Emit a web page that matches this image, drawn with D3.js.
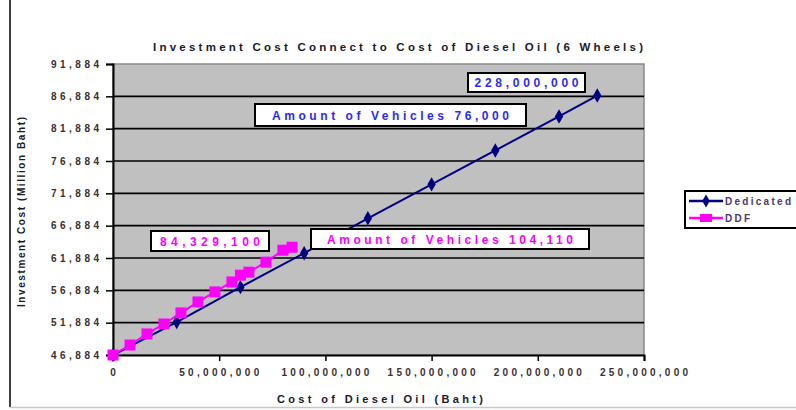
<!DOCTYPE html>
<html><head><meta charset="utf-8">
<script src="https://cdn.jsdelivr.net/npm/d3@7"></script>
<style>
html,body{margin:0;padding:0;background:#fff;}
svg{display:block;font-family:"Liberation Sans",Arial,sans-serif;}
</style></head>
<body>
<script>
// ---- data ----
const titleText = "Investment Cost Connect to Cost of Diesel Oil (6 Wheels)";
const xTitle = "Cost of Diesel Oil (Baht)";
const yTitle = "Investment Cost (Million Baht)";
const xTicks = [0, 50000000, 100000000, 150000000, 200000000, 250000000];
const yTicks = [46884, 51884, 56884, 61884, 66884, 71884, 76884, 81884, 86884, 91884];
const seriesNames = ["Dedicated", "DDF"];
const dedicatedX = [0, 30e6, 60e6, 90e6, 120e6, 150e6, 180e6, 210e6, 228e6];
const dedicatedY = [46884, 51980, 57380, 62630, 68030, 73270, 78520, 83770, 87010];
const ddfX = [0, 8e6, 16e6, 24e6, 32e6, 40e6, 48e6, 56e6, 60e6, 64e6, 72e6, 80e6, 84.3291e6];
const ddfY = [46884, 48430, 50140, 51680, 53390, 55090, 56640, 58180, 59230, 59690, 61240, 63090, 63550];
const annotations = [
  {text: "228,000,000", color: "#2a2aff"},
  {text: "Amount of Vehicles 76,000", color: "#2a2aff"},
  {text: "84,329,100", color: "#ff00ff"},
  {text: "Amount of Vehicles 104,110", color: "#ff00ff"}
];

// ---- layout ----
const W = 796, H = 410;
const P = {l: 113, r: 644, t: 64, b: 355};
const svg = d3.select("body").append("svg").attr("width", W).attr("height", H);

const x = d3.scaleLinear().domain([0, 250000000]).range([P.l, P.r]);
const y = d3.scaleLinear().domain([46884, 91884]).range([P.b, P.t]);
const fmt = d3.format(",");

// outer frame
svg.append("line").attr("x1", 10).attr("x2", 10).attr("y1", 0).attr("y2", 407).attr("stroke", "#000").attr("stroke-width", 1.5);
svg.append("line").attr("x1", 10).attr("x2", 796).attr("y1", 407.5).attr("y2", 407.5).attr("stroke", "#c8c8c8").attr("stroke-width", 1.5);

// plot bg
svg.append("rect").attr("x", P.l).attr("y", P.t).attr("width", P.r - P.l).attr("height", P.b - P.t)
  .attr("fill", "#c0c0c0").attr("stroke", "#8a8a8a").attr("stroke-width", 1.5);

// gridlines
svg.append("g").selectAll("line").data(yTicks.slice(1, -1)).join("line")
  .attr("x1", P.l).attr("x2", P.r).attr("y1", d => y(d)).attr("y2", d => y(d))
  .attr("stroke", "#000").attr("stroke-width", 1.6);

// axes
const yAxis = d3.axisLeft(y).tickValues(yTicks).tickSize(7).tickFormat("");
const xAxis = d3.axisBottom(x).tickValues(xTicks).tickSize(6).tickFormat("");
const gy = svg.append("g").attr("transform", `translate(${P.l},0)`).call(yAxis);
const gx = svg.append("g").attr("transform", `translate(0,${P.b})`).call(xAxis);
[gy, gx].forEach(g => {
  g.select(".domain").attr("stroke", "#000").attr("stroke-width", 2);
  g.selectAll(".tick line").attr("stroke", "#000").attr("stroke-width", 1.5);
});

// tick labels
svg.append("g").selectAll("text").data(yTicks).join("text")
  .attr("x", 99).attr("y", d => y(d) + 3.5).attr("text-anchor", "end")
  .attr("font-size", 10).attr("font-weight", "bold").attr("fill", "#3a3030")
  .attr("textLength", 48).attr("lengthAdjust", "spacing")
  .text(d => fmt(d));
svg.append("g").selectAll("text").data(xTicks).join("text")
  .attr("x", d => x(d)).attr("y", 376).attr("text-anchor", "middle")
  .attr("font-size", 10).attr("font-weight", "bold").attr("fill", "#3a3030")
  .each(function(d) {
    const s = fmt(d);
    if (s.length > 1) d3.select(this).attr("textLength", s.length * 8).attr("lengthAdjust", "spacing");
  })
  .text(d => fmt(d));

// titles
svg.append("text").attr("x", 398).attr("y", 51).attr("text-anchor", "middle")
  .attr("font-size", 11.5).attr("font-weight", "bold").attr("fill", "#1a1a2a")
  .attr("textLength", 490).attr("lengthAdjust", "spacing").text(titleText);
svg.append("text").attr("x", 380).attr("y", 403).attr("text-anchor", "middle")
  .attr("font-size", 11).attr("font-weight", "bold").attr("fill", "#1a1a2a")
  .attr("textLength", 206).attr("lengthAdjust", "spacing").text(xTitle);
svg.append("text").attr("transform", "translate(25,212) rotate(-90)").attr("text-anchor", "middle")
  .attr("font-size", 10).attr("font-weight", "bold").attr("fill", "#1a1a2a")
  .attr("textLength", 190).attr("lengthAdjust", "spacing").text(yTitle);

// series
const ded = dedicatedX.map((v, i) => [v, dedicatedY[i]]);
const ddf = ddfX.map((v, i) => [v, ddfY[i]]);
const line = d3.line().x(d => x(d[0])).y(d => y(d[1]));

svg.append("path").datum(ded).attr("d", line).attr("fill", "none").attr("stroke", "#000080").attr("stroke-width", 2);
svg.append("g").selectAll("path").data(ded).join("path")
  .attr("d", d3.symbol(d3.symbolDiamond, 60)).attr("transform", d => `translate(${x(d[0])},${y(d[1])})`)
  .attr("fill", "#000080");

svg.append("path").datum(ddf).attr("d", line).attr("fill", "none").attr("stroke", "#ff00ff").attr("stroke-width", 2);
svg.append("g").selectAll("rect").data(ddf).join("rect")
  .attr("x", d => x(d[0]) - 5.5).attr("y", d => y(d[1]) - 5.5).attr("width", 11).attr("height", 11)
  .attr("fill", "#ff00ff");

// annotation boxes
const boxPos = [
  {x: 468, y: 73, w: 117, h: 19, tl: 104},
  {x: 255, y: 104, w: 271, h: 22, tl: 237},
  {x: 151, y: 231, w: 118, h: 20, tl: 100},
  {x: 311, y: 229, w: 278, h: 20, tl: 246}
];
annotations.forEach((a, i) => {
  const b = boxPos[i];
  svg.append("rect").attr("x", b.x).attr("y", b.y).attr("width", b.w).attr("height", b.h)
    .attr("fill", "#fff").attr("stroke", "#000").attr("stroke-width", 2);
  svg.append("text").attr("x", b.x + b.w / 2).attr("y", b.y + b.h / 2 + 4.5).attr("text-anchor", "middle")
    .attr("font-size", 12).attr("font-weight", "bold").attr("fill", a.color)
    .attr("textLength", b.tl).attr("lengthAdjust", "spacing").text(a.text);
});

// legend
svg.append("rect").attr("x", 685).attr("y", 191).attr("width", 120).attr("height", 37)
  .attr("fill", "#fff").attr("stroke", "#000").attr("stroke-width", 2);
const lg = [{c: "#000080", t: seriesNames[0], y: 201, tl: 66}, {c: "#ff00ff", t: seriesNames[1], y: 218, tl: 25}];
lg.forEach((l, i) => {
  svg.append("line").attr("x1", 689).attr("x2", 723).attr("y1", l.y).attr("y2", l.y).attr("stroke", l.c).attr("stroke-width", 2.5);
  if (i === 0) svg.append("path").attr("d", d3.symbol(d3.symbolDiamond, 50)).attr("transform", `translate(706,${l.y})`).attr("fill", l.c);
  else svg.append("rect").attr("x", 700).attr("y", l.y - 4).attr("width", 12).attr("height", 8).attr("fill", l.c);
  svg.append("text").attr("x", 725).attr("y", l.y + 3.5).attr("font-size", 10).attr("font-weight", "bold")
    .attr("fill", "#4a3a6a").attr("textLength", l.tl).attr("lengthAdjust", "spacing").text(l.t);
});
</script>
</body></html>
